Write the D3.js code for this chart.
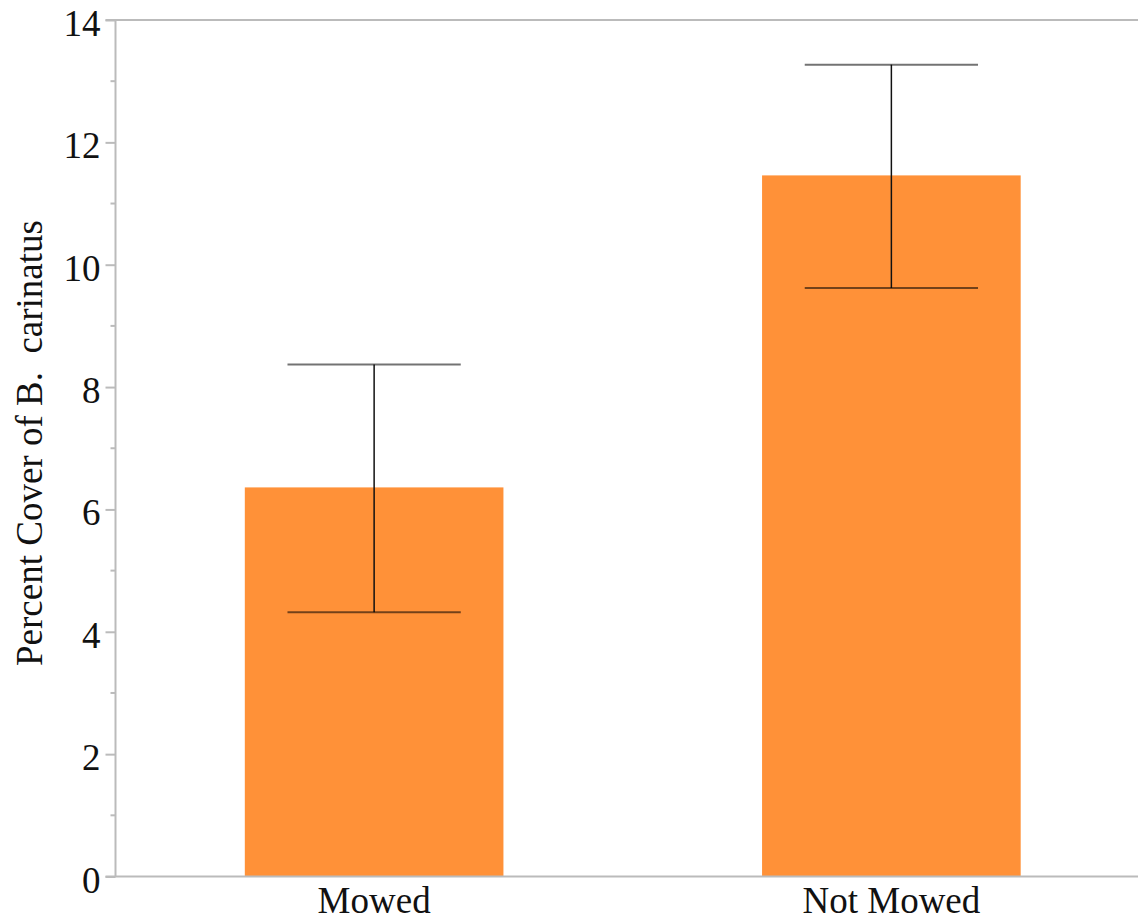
<!DOCTYPE html>
<html>
<head>
<meta charset="utf-8">
<script src="https://cdn.jsdelivr.net/npm/d3@7"></script>
<style>
  html, body { margin: 0; padding: 0; background: #fff; }
  svg { display: block; }
</style>
</head>
<body>
<svg id="chart" width="1138" height="924"></svg>
<script>
// Treatment groups and mean percent cover with error bar limits
const categories = ["Mowed", "Not Mowed"];
const means = [6.36, 11.46];
const errLower = [4.32, 9.62];
const errUpper = [8.37, 13.27];
const yTicks = [0, 2, 4, 6, 8, 10, 12, 14];
const yLabel = "Percent Cover of B.\u00A0 carinatus";

const FONT = '"Liberation Serif"';
const FONT_SIZE = "37px";

const svg = d3.select("#chart");
const margin = { left: 115.5, top: 20, bottom: 876.5, right: 1150 };

const x = d3.scaleBand()
  .domain(categories)
  .range([margin.left, margin.right])
  .padding(0);

const y = d3.scaleLinear()
  .domain([0, 14])
  .range([margin.bottom, margin.top]);

const barW = x.bandwidth() * 0.5;
const capW = barW * 0.67;
const cx = d => x(d) + x.bandwidth() / 2;

// Bars
svg.append("g").selectAll("rect")
  .data(categories)
  .join("rect")
  .attr("x", d => cx(d) - barW / 2)
  .attr("width", barW)
  .attr("y", (d, i) => y(means[i]))
  .attr("height", (d, i) => y(0) - y(means[i]))
  .attr("fill", "#FF9138");

// Y axis with major and minor ticks
const axisColor = "#BBBBBB";
const yAxis = svg.append("g")
  .attr("transform", `translate(${margin.left},0)`)
  .call(d3.axisLeft(y).tickValues(yTicks).tickSize(10).tickPadding(5).tickFormat(d3.format("d")));
yAxis.select(".domain").remove();
yAxis.selectAll(".tick line").attr("stroke", axisColor).attr("stroke-width", 2);
yAxis.selectAll(".tick text")
  .style("font-family", FONT)
  .style("font-size", FONT_SIZE)
  .attr("fill", "#111")
  .attr("dy", "0.42em");

const minor = d3.range(1, 14, 2);
svg.append("g").selectAll("line")
  .data(minor)
  .join("line")
  .attr("x1", margin.left - 5).attr("x2", margin.left)
  .attr("y1", d => y(d)).attr("y2", d => y(d))
  .attr("stroke", axisColor).attr("stroke-width", 2);

// Frame: left, top and bottom lines
svg.append("line")
  .attr("x1", margin.left).attr("x2", margin.left)
  .attr("y1", y(14)).attr("y2", y(0))
  .attr("stroke", axisColor).attr("stroke-width", 2);
svg.append("line")
  .attr("x1", margin.left - 10).attr("x2", 1138)
  .attr("y1", y(14)).attr("y2", y(14))
  .attr("stroke", axisColor).attr("stroke-width", 2);
svg.append("line")
  .attr("x1", margin.left - 10).attr("x2", 1138)
  .attr("y1", y(0)).attr("y2", y(0))
  .attr("stroke", axisColor).attr("stroke-width", 2);

// X axis category labels
const xAxis = svg.append("g")
  .attr("transform", `translate(0,${margin.bottom})`)
  .call(d3.axisBottom(x).tickSize(0).tickPadding(10));
xAxis.select(".domain").remove();
xAxis.selectAll(".tick text")
  .style("font-family", FONT)
  .style("font-size", FONT_SIZE)
  .attr("fill", "#111");

// Error bars
const eb = svg.append("g");
eb.selectAll("line.whisker")
  .data(categories)
  .join("line")
  .attr("class", "whisker")
  .attr("x1", cx).attr("x2", cx)
  .attr("y1", (d, i) => y(errUpper[i]))
  .attr("y2", (d, i) => y(errLower[i]))
  .attr("stroke", "#111").attr("stroke-width", 1.5);
[errUpper, errLower].forEach(arr => {
  eb.append("g").selectAll("line")
    .data(categories)
    .join("line")
    .attr("x1", d => cx(d) - capW / 2)
    .attr("x2", d => cx(d) + capW / 2)
    .attr("y1", (d, i) => y(arr[i]))
    .attr("y2", (d, i) => y(arr[i]))
    .attr("stroke", "rgba(0,0,0,0.55)").attr("stroke-width", 2);
});

// Y axis title
svg.append("text")
  .attr("transform", `translate(42,443) rotate(-90)`)
  .attr("text-anchor", "middle")
  .style("font-family", FONT)
  .style("font-size", FONT_SIZE)
  .attr("fill", "#111")
  .text(yLabel);
</script>
</body>
</html>
